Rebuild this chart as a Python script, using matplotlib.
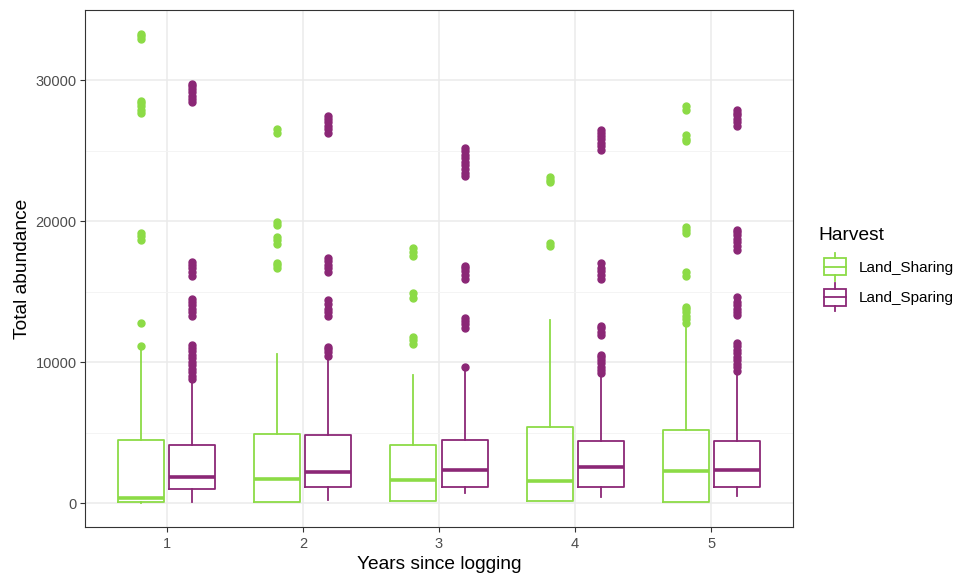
import matplotlib.pyplot as plt
from matplotlib.legend_handler import HandlerBase
from matplotlib.patches import Rectangle
from matplotlib.lines import Line2D

plt.rcParams['font.family'] = ['Liberation Sans', 'DejaVu Sans']

years = [1, 2, 3, 4, 5]
groups = ['Land_Sharing', 'Land_Sparing']
colors = {'Land_Sharing': '#8CDB46', 'Land_Sparing': '#8B2776'}

# box stats: whisker low, q1, median, q3, whisker high
share_lo = [50, 140, 160, 160, 120]
share_q1 = [120, 140, 160, 160, 120]
share_med = [400, 1700, 1630, 1580, 2335]
share_q3 = [4500, 4950, 4175, 5400, 5190]
share_hi = [11000, 10590, 9130, 12970, 12665]
share_out = [
    [11130, 12800, 18700, 18950, 19140, 27650, 27900, 28150, 28350, 28500, 32890, 33100, 33290],
    [16690, 16880, 17060, 18390, 18650, 18900, 19750, 19960, 26240, 26500],
    [11270, 11550, 11830, 14560, 14890, 17510, 17800, 18080],
    [18220, 18480, 22750, 22950, 23150],
    [12800, 13050, 13300, 13550, 13750, 13950, 16150, 16380, 19160, 19400, 19610,
     25650, 25850, 26090, 27850, 28150],
]

spare_lo = [120, 280, 750, 450, 520]
spare_q1 = [1060, 1155, 1155, 1155, 1155]
spare_med = [1890, 2215, 2405, 2595, 2405]
spare_q3 = [4125, 4830, 4530, 4410, 4460]
spare_hi = [8600, 10300, 9480, 9000, 9250]
spare_out = [
    [8790, 9050, 9300, 9550, 9800, 10050, 10300, 10550, 10800, 11050, 11230,
     13270, 13550, 13800, 14050, 14300, 14470, 16150, 16400, 16650, 16900, 17130,
     28410, 28650, 28900, 29150, 29400, 29600, 29750],
    [10440, 10700, 10950, 11120, 13270, 13550, 13800, 14100, 14420,
     16380, 16650, 16900, 17150, 17370, 26240, 26500, 26750, 27000, 27250, 27440],
    [9650, 12440, 12700, 12950, 13120, 15940, 16200, 16450, 16650, 16850,
     23180, 23450, 23700, 23950, 24200, 24450, 24700, 24950, 25220],
    [9210, 9450, 9700, 9950, 10200, 10400, 10530, 11920, 12150, 12400, 12580,
     15940, 16200, 16450, 16700, 17010, 25060, 25300, 25550, 25800, 26050, 26250, 26450],
    [9380, 9650, 9900, 10150, 10400, 10650, 10900, 11150, 11350,
     13320, 13550, 13800, 14050, 14300, 14610, 17990, 18250, 18500, 18750, 19000, 19200, 19370,
     26760, 27000, 27250, 27500, 27700, 27910],
]


def make_stats(lo, q1, med, q3, hi, out):
    return [dict(whislo=lo[i], q1=q1[i], med=med[i], q3=q3[i], whishi=hi[i], fliers=out[i])
            for i in range(len(lo))]


fig = plt.figure(figsize=(9.58, 5.8), dpi=100)
ax = fig.add_axes([0.0887, 0.0914, 0.7391, 0.8914])

series = [
    ('Land_Sharing', -0.1875, make_stats(share_lo, share_q1, share_med, share_q3, share_hi, share_out)),
    ('Land_Sparing', 0.1875, make_stats(spare_lo, spare_q1, spare_med, spare_q3, spare_hi, spare_out)),
]
for name, off, stats in series:
    c = colors[name]
    ax.bxp(stats, positions=[y + off for y in years], widths=0.3375, showcaps=False,
           patch_artist=False,
           boxprops=dict(color=c, lw=1.3),
           whiskerprops=dict(color=c, lw=1.3),
           medianprops=dict(color=c, lw=2.6, solid_capstyle='butt'),
           flierprops=dict(marker='o', markersize=5, markerfacecolor=c, markeredgecolor=c),
           zorder=3)

ax.set_xlim(0.4, 5.6)
ax.set_ylim(-1665, 34965)
ax.set_xticks(years)
ax.set_xticklabels([str(y) for y in years])
ax.set_yticks([0, 10000, 20000, 30000])
ax.set_yticks([5000, 15000, 25000], minor=True)
ax.set_xticks([], minor=True)
ax.grid(True, which='major', color='#EBEBEB', lw=1.1, zorder=0)
ax.grid(True, which='minor', axis='y', color='#F3F3F3', lw=0.6, zorder=0)
ax.set_axisbelow(True)
ax.tick_params(which='major', length=3.5, width=0.8, color='#333333', labelcolor='#4D4D4D',
               labelsize=10.5, pad=4)
ax.tick_params(axis='y', which='major', pad=2.5)
ax.tick_params(which='minor', length=0)
for s in ax.spines.values():
    s.set_color('#333333')
    s.set_linewidth(0.8)
ax.set_xlabel('Years since logging', fontsize=13.8, labelpad=3)
ax.set_ylabel('Total abundance', fontsize=13.8, labelpad=3)


class BoxHandler(HandlerBase):
    def create_artists(self, legend, orig_handle, xdescent, ydescent, width, height, fontsize, trans):
        c = orig_handle.get_color()
        x0, w = -xdescent, width
        cy = -ydescent + height / 2
        xl, xr = x0 + 0.2 * w, x0 + w
        xm = (xl + xr) / 2
        bh, wh = 0.56 * fontsize, 0.92 * fontsize
        arts = [
            Rectangle((xl, cy - bh), xr - xl, 2 * bh, fill=False, ec=c, lw=1.3),
            Line2D([xl, xr], [cy, cy], color=c, lw=1.3),
            Line2D([xm, xm], [cy + bh, cy + wh], color=c, lw=1.3),
            Line2D([xm, xm], [cy - wh, cy - bh], color=c, lw=1.3),
        ]
        for a in arts:
            a.set_transform(trans)
        return arts


fig.text(0.854, 1 - 235 / 580, 'Harvest', fontsize=13.8, va='center', ha='left')
handles = [Line2D([], [], color=colors[g]) for g in groups]
leg = fig.legend(handles, groups, loc='center left', bbox_to_anchor=(0.854, 1 - 282 / 580),
                 frameon=False, fontsize=11,
                 handler_map={Line2D: BoxHandler()}, handlelength=1.8, handleheight=1.8,
                 handletextpad=0.85, labelspacing=0.6, borderaxespad=0, borderpad=0)

fig.savefig('out.png', dpi=100)
